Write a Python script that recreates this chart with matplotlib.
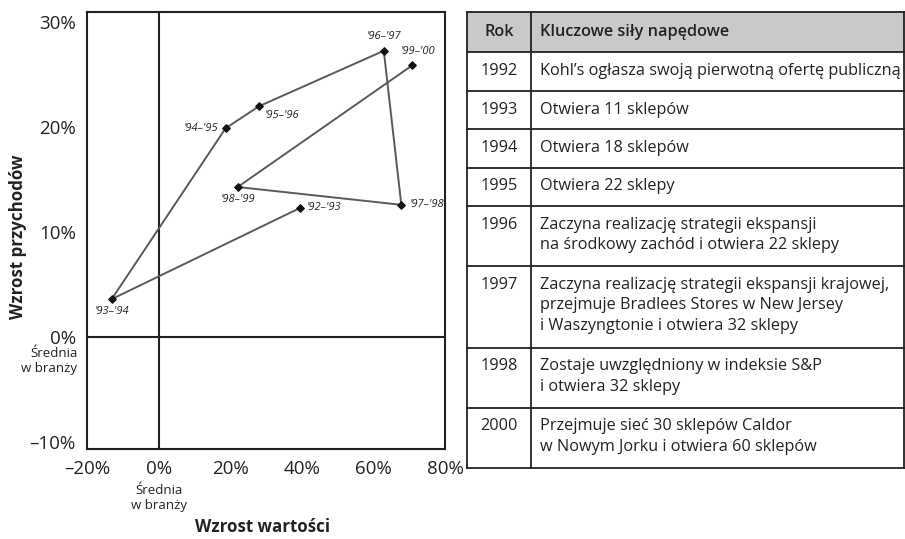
import matplotlib.pyplot as plt

# Growth of value (x) vs growth of revenue (y), in percent
periods = ["'92–'93", "'93–'94", "'94–'95", "'95–'96", "'96–'97",
           "'97–'98", "'98–'99", "'99–'00"]
value_growth = [39.5, -13.1, 18.7, 28.0, 62.9, 67.8, 22.1, 70.8]
revenue_growth = [12.3, 3.6, 19.9, 22.0, 27.3, 12.6, 14.3, 25.9]

x_ticks = [-20, 0, 20, 40, 60, 80]
y_ticks = [-10, 0, 10, 20, 30]

years = ["1992", "1993", "1994", "1995", "1996", "1997", "1998", "2000"]
drivers = [
    "Kohl’s ogłasza swoją pierwotną ofertę publiczną",
    "Otwiera 11 sklepów",
    "Otwiera 18 sklepów",
    "Otwiera 22 sklepy",
    "Zaczyna realizację strategii ekspansji\nna środkowy zachód i otwiera 22 sklepy",
    "Zaczyna realizację strategii ekspansji krajowej,\nprzejmuje Bradlees Stores w New Jersey\ni Waszyngtonie i otwiera 32 sklepy",
    "Zostaje uwzględniony w indeksie S&P\ni otwiera 32 sklepy",
    "Przejmuje sieć 30 sklepów Caldor\nw Nowym Jorku i otwiera 60 sklepów",
]

plt.rcParams['font.family'] = ['Open Sans', 'DejaVu Sans']
ink = '#222222'

W, H = 905, 539
fig = plt.figure(figsize=(W / 100, H / 100), dpi=100)

# Chart axes, placed in pixels
ax = fig.add_axes([87 / W, 1 - 449 / H, (445 - 87) / W, (449 - 12) / H])
ax.plot(value_growth, revenue_growth, color='#5a5a5a', lw=1.4, zorder=2)
ax.scatter(value_growth, revenue_growth, marker='D', s=14, color='#111111', zorder=3)
ax.axhline(0, color=ink, lw=1.5, zorder=1)
ax.axvline(0, color=ink, lw=1.5, zorder=1)
ax.set_xlim(-20, 80)
ax.set_ylim(-10.7, 31)
ax.set_xticks(x_ticks)
ax.set_yticks(y_ticks)
ax.set_xticklabels([f"{t}%".replace('-', '–') for t in x_ticks])
ax.set_yticklabels([f"{t}%".replace('-', '–') for t in y_ticks])
ax.tick_params(length=0, labelsize=13.5, colors=ink, pad=8)
for s in ax.spines.values():
    s.set_linewidth(1.5)
    s.set_color(ink)

# point labels: (dx, dy) offsets in points and alignment
offsets = {
    "'92–'93": (5, 0, 'left', 'center'),
    "'93–'94": (0, -5, 'center', 'top'),
    "'94–'95": (-5, 0, 'right', 'center'),
    "'95–'96": (4, -3, 'left', 'top'),
    "'96–'97": (0, 6, 'center', 'bottom'),
    "'97–'98": (6, 0, 'left', 'center'),
    "'98–'99": (0, -5, 'center', 'top'),
    "'99–'00": (4, 6, 'center', 'bottom'),
}
for p, x, y in zip(periods, value_growth, revenue_growth):
    dx, dy, ha, va = offsets[p]
    ax.annotate(p, (x, y), xytext=(dx, dy), textcoords='offset points',
                ha=ha, va=va, fontsize=8, style='italic', color=ink)

ax.annotate("Średnia\nw branży", (0, 0), xycoords=ax.get_yaxis_transform(),
            xytext=(-7, -7), textcoords='offset points', ha='right', va='top',
            fontsize=9.5, color=ink, linespacing=1.2)
ax.annotate("Średnia\nw branży", (0, 0), xycoords=ax.get_xaxis_transform(),
            xytext=(0, -25), textcoords='offset points', ha='center', va='top',
            fontsize=9.5, color=ink, linespacing=1.2)
fig.text(18 / W, 1 - 237 / H, "Wzrost przychodów", rotation=90, ha='center', va='center',
         fontsize=12.2, fontweight='bold', color=ink)
fig.text(263 / W, 1 - 527 / H, "Wzrost wartości", ha='center', va='center',
         fontsize=12.2, fontweight='bold', color=ink)

# Table drawn in a pixel-space overlay axes
tx = fig.add_axes([0, 0, 1, 1])
tx.set_xlim(0, W)
tx.set_ylim(H, 0)
tx.axis('off')

left, mid, right = 467, 531, 904
top = 12
header_h = 40
line_h = 21.5
rows_h = [17 + line_h * (d.count('\n') + 1) for d in drivers]
fs = 11.7

tx.fill_between([left, right], top, top + header_h, color='#c9c9c9', lw=0)
tx.text((left + mid) / 2, top + header_h / 2, "Rok", ha='center', va='center',
        fontsize=fs, fontweight='semibold', color=ink)
tx.text(mid + 9, top + header_h / 2, "Kluczowe siły napędowe", ha='left', va='center',
        fontsize=fs, fontweight='semibold', color=ink)

y = top + header_h
edges = [top, y]
for yr, d, h in zip(years, drivers, rows_h):
    tx.text((left + mid) / 2, y + 11, yr, ha='center', va='top', fontsize=fs, color=ink)
    tx.text(mid + 9, y + 11, d, ha='left', va='top', fontsize=fs, color=ink,
            linespacing=1.36)
    y += h
    edges.append(y)

for e in edges:
    tx.plot([left, right], [e, e], color=ink, lw=1.3)
tx.plot([left, left], [top, edges[-1]], color=ink, lw=1.3)
tx.plot([mid, mid], [top, edges[-1]], color=ink, lw=1.3)
tx.plot([right, right], [top, edges[-1]], color=ink, lw=1.3)

fig.savefig('out.png', dpi=100)
